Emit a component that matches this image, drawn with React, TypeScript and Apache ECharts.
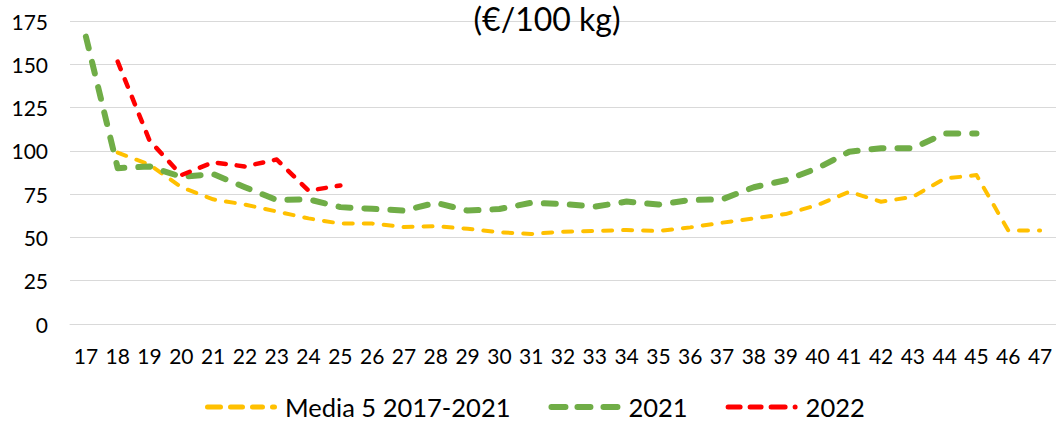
import React, { useEffect, useRef } from "react";
import * as echarts from "echarts";

const weeks = ["17","18","19","20","21","22","23","24","25","26","27","28","29","30","31","32","33","34","35","36","37","38","39","40","41","42","43","44","45","46","47"];
const media5 = [null, 99, 92, 79, 72, 69, 65, 61, 58, 58, 56, 56.5, 55, 53, 52, 53.3, 53.7, 54.3, 53.7, 55.8, 58.5, 61, 63.5, 68.7, 76.4, 70.6, 73.5, 84, 86, 54, 54];
const y2021 = [166, 90, 91, 85, 86.6, 79, 71.6, 72, 67.5, 66.5, 65.5, 70, 65.5, 66.4, 70, 69.3, 67.8, 70.7, 69, 71.6, 72, 79, 83, 90, 99.5, 101.5, 101.5, 110, 110, null, null];
const y2022 = [null, 151.5, 106, 86, 93.4, 91, 95, 77, 80, null, null, null, null, null, null, null, null, null, null, null, null, null, null, null, null, null, null, null, null, null, null];
const yTicks = { min: 0, max: 175, interval: 25 };
const titleText = "(€/100 kg)";
const seriesNames = ["Media 5 2017-2021", "2021", "2022"];

const FONT = "Lato, 'Open Sans', sans-serif";

// legend icon path made of rounded dashes (segments given as [start, end] in px)
function pill(x0: number, x1: number, h: number) {
  const r = h / 2;
  const w = Math.max(0, x1 - x0 - h);
  return `M${x0 + r},0 h${w} a${r},${r} 0 0 1 0,${h} h${-w} a${r},${r} 0 0 1 0,${-h} z`;
}
function dashIcon(segs: number[][], h: number) {
  return "path://" + segs.map((s) => pill(s[0], s[1], h)).join(" ");
}

export default function App() {
  const ref = useRef<HTMLDivElement>(null);
  useEffect(() => {
    if (!ref.current) return;
    const chart = echarts.init(ref.current, undefined, { renderer: "svg" });
    const mk = (name: string, data: any[], color: string, width: number, dash: number[]) => ({
      name,
      type: "line",
      data,
      symbol: "none",
      showSymbol: false,
      connectNulls: false,
      lineStyle: { color, width, type: dash, cap: "round", join: "round" },
      itemStyle: { color },
    });
    const iconY = dashIcon([[0, 18], [23, 40], [45, 60], [65, 72]], 5);
    const iconG = dashIcon([[0, 20], [26, 45], [52, 72]], 6);
    const iconR = dashIcon([[0, 17], [22, 38], [43, 62], [67, 72]], 5);
    chart.setOption({
      animation: false,
      textStyle: { fontFamily: FONT },
      graphic: [
        {
          type: "text",
          x: 547,
          y: 18,
          z: 100,
          style: {
            text: titleText,
            fontSize: 32,
            fontFamily: FONT,
            fill: "#000",
            textAlign: "center",
            textVerticalAlign: "middle",
          },
        },
      ],
      grid: { left: 70, right: 0, top: 21, bottom: 97, containLabel: false },
      xAxis: {
        type: "category",
        data: weeks,
        boundaryGap: true,
        axisLine: { show: true, lineStyle: { color: "#d9d9d9", width: 1 } },
        axisTick: { show: false },
        axisLabel: { color: "#000", fontSize: 21, margin: 21, fontFamily: FONT, interval: 0 },
        splitLine: { show: false },
      },
      yAxis: {
        type: "value",
        min: yTicks.min,
        max: yTicks.max,
        interval: yTicks.interval,
        axisLine: { show: false },
        axisTick: { show: false },
        axisLabel: { color: "#000", fontSize: 21, margin: 22, fontFamily: FONT },
        splitLine: { show: true, lineStyle: { color: "#d9d9d9", width: 1 } },
      },
      legend: {
        top: 394,
        left: 205,
        padding: 0,
        itemWidth: 72,
        itemHeight: 6,
        itemGap: 38,
        itemStyle: { borderWidth: 0 },
        lineStyle: { width: 0 },
        textStyle: { color: "#000", fontSize: 25.5, lineHeight: 24, fontFamily: FONT, padding: [0, 0, 0, 3] },
        data: [
          { name: seriesNames[0], icon: iconY },
          { name: seriesNames[1], icon: iconG },
          { name: seriesNames[2], icon: iconR },
        ],
      },
      series: [
        mk(seriesNames[0], media5, "#FFC000", 4, [9, 11]),
        mk(seriesNames[1], y2021, "#70AD47", 6, [12, 14]),
        mk(seriesNames[2], y2022, "#FF0000", 4.5, [8, 11]),
      ],
    });
    return () => chart.dispose();
  }, []);
  return (
    <div
      ref={ref}
      style={{ position: "fixed", left: 0, top: 0, width: 1056, height: 421, background: "#fff" }}
    />
  );
}
